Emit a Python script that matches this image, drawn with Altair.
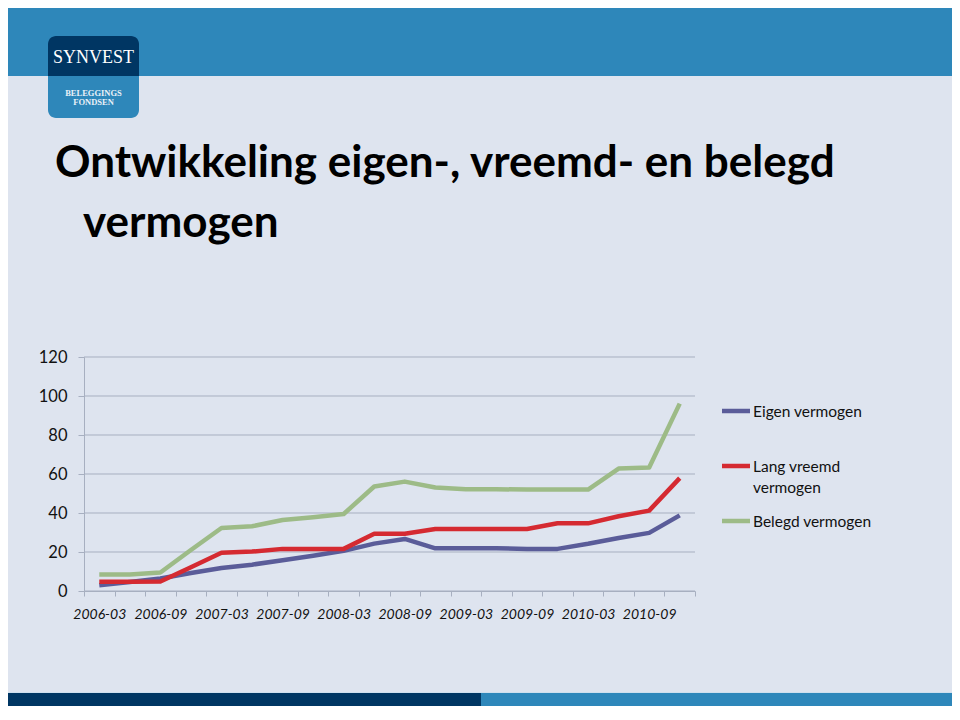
import altair as alt
import pandas as pd

# ---------------- data ----------------
quarters = [
    "2006-03", "2006-06", "2006-09", "2006-12",
    "2007-03", "2007-06", "2007-09", "2007-12",
    "2008-03", "2008-06", "2008-09", "2008-12",
    "2009-03", "2009-06", "2009-09", "2009-12",
    "2010-03", "2010-06", "2010-09", "2010-12",
]
eigen_vermogen = [2.9, 4.6, 6.4, 9.2, 11.8, 13.5, 15.8, 18.1, 20.6, 24.3,
                  26.7, 21.9, 21.9, 21.9, 21.6, 21.6, 24.2, 27.2, 29.8, 38.8]
lang_vreemd_vermogen = [4.8, 4.8, 4.9, 12.2, 19.6, 20.2, 21.6, 21.6, 21.6, 29.4,
                        29.4, 31.8, 31.8, 31.8, 31.8, 34.7, 34.7, 38.3, 41.2, 57.9]
belegd_vermogen = [8.5, 8.5, 9.5, 21.0, 32.3, 33.2, 36.4, 37.8, 39.5, 53.6,
                   56.1, 53.1, 52.2, 52.2, 52.0, 52.0, 52.0, 62.8, 63.3, 96.1]
series_names = ["Eigen vermogen", "Lang vreemd vermogen", "Belegd vermogen"]
series_values = [eigen_vermogen, lang_vreemd_vermogen, belegd_vermogen]
y_ticks = [0, 20, 40, 60, 80, 100, 120]
title_lines = ["Ontwikkeling eigen-, vreemd- en belegd", "vermogen"]
logo_lines = ["SYNVEST", "BELEGGINGS", "FONDSEN"]

# ---------------- styling ----------------
series_colors = ["#5A5C99", "#D52A31", "#9DBB87"]
BG = "#DEE4EF"
BAND = "#2E87BA"
NAVY = "#003663"
GRID = "#A7AFC0"
TEXT = "#111111"

W, H = 944, 698
X0, X1 = 76, 687
Y0, Y1 = 583, 349

rows = []
for name, vals in zip(series_names, series_values):
    for q, v in zip(quarters, vals):
        rows.append({"quarter": q, "series": name, "value": v})
df = pd.DataFrame(rows)

one = pd.DataFrame({"k": [0]})


def rect(x, x2, y, y2, color, **kw):
    return alt.Chart(one).mark_rect(color=color, **kw).encode(
        x=alt.value(x), x2=alt.value(x2), y=alt.value(y), y2=alt.value(y2)
    )


def label(text, x, y, **kw):
    return alt.Chart(pd.DataFrame({"t": [text]})).mark_text(**kw).encode(
        x=alt.value(x), y=alt.value(y), text="t:N"
    )


x_scale = alt.Scale(type="band", domain=quarters, range=[X0, X1],
                    paddingInner=0, paddingOuter=0)
y_scale = alt.Scale(domain=[0, 120], range=[Y0, Y1], nice=False, zero=True)

x_axis = alt.Axis(
    title=None, offset=-(H - Y0), tickBand="extent", grid=False,
    domainColor=GRID, tickColor=GRID, tickSize=5, labelAngle=0,
    labelFont="Lato", labelFontSize=14, labelFontStyle="italic",
    labelColor=TEXT, labelPadding=11, labelOverlap=False,
    labelExpr="(substring(datum.value, 5) == '03' || substring(datum.value, 5) == '09') ? datum.value : ''",
)
y_axis = alt.Axis(
    title=None, offset=-X0, values=y_ticks, grid=False,
    domainColor=GRID, tickColor=GRID, tickSize=6, labelOverlap=False,
    labelFont="Lato", labelFontSize=16.5, labelColor=TEXT, labelPadding=11,
)

# grid lines (same field name so the y axis is shared)
grid = alt.Chart(pd.DataFrame({"value": y_ticks})).mark_rule(
    color=GRID, strokeWidth=1
).encode(
    y=alt.Y("value:Q", scale=y_scale, axis=y_axis),
    x=alt.value(X0), x2=alt.value(X1),
)

lines = []
for i, name in enumerate(series_names):
    lines.append(
        alt.Chart(df).transform_filter(alt.datum.series == name)
        .mark_line(color=series_colors[i], strokeWidth=4.5,
                   strokeJoin="round", strokeCap="butt")
        .encode(
            x=alt.X("quarter:N", sort=quarters, scale=x_scale, axis=x_axis,
                    bandPosition=0.5),
            y=alt.Y("value:Q", scale=y_scale, axis=y_axis),
        )
    )

# legend (manual, Excel-like)
legend_y = [403, 458, 513]
legend_layers = []
for i, name in enumerate(series_names):
    legend_layers.append(
        alt.Chart(one).mark_rule(color=series_colors[i], strokeWidth=4.5).encode(
            x=alt.value(714), x2=alt.value(742),
            y=alt.value(legend_y[i]),
        )
    )
    shown = name.replace("vreemd ", "vreemd\n") if len(name) > 16 else name
    legend_layers.append(
        label(shown, 745, legend_y[i] + 5.5, align="left", baseline="alphabetic",
              font="Lato", fontSize=15.5, color=TEXT, lineBreak="\n", lineHeight=21)
    )

# slide decorations
header = rect(0, W, 0, 68, BAND)
logo_base = rect(40, 131, 28, 110, BAND, cornerRadius=8)
logo_top = rect(40, 131, 28, 68, NAVY, cornerRadiusTopLeft=8, cornerRadiusTopRight=8)
logo_t1 = label(logo_lines[0], 85.5, 49.5, align="center", baseline="middle",
                font="Liberation Serif", fontSize=18, color="white")
logo_t2 = label(logo_lines[1], 85.5, 84.5, align="center", baseline="middle",
                font="Liberation Serif", fontSize=8.5, fontWeight="bold", color="#EAF1F8")
logo_t3 = label(logo_lines[2], 85.5, 93.5, align="center", baseline="middle",
                font="Liberation Serif", fontSize=8.5, fontWeight="bold", color="#EAF1F8")
title1 = label(title_lines[0], 47, 169, align="left", baseline="alphabetic",
               font="Lato", fontSize=44, fontWeight="bold", color="black")
title2 = label(title_lines[1], 75, 229, align="left", baseline="alphabetic",
               font="Lato", fontSize=44, fontWeight="bold", color="black")
foot_line = rect(0, W, 684, 685, "#CFE0EE")
foot_left = rect(0, 473, 685, H, NAVY)
foot_right = rect(473, W, 685, H, BAND)

chart = alt.layer(
    header, logo_base, logo_top, logo_t1, logo_t2, logo_t3,
    title1, title2, grid, *lines, *legend_layers,
    foot_line, foot_left, foot_right,
).properties(
    width=W, height=H,
    autosize=alt.AutoSizeParams(type="none"),
    padding=0,
    background=BG,
).configure_view(stroke=None)

chart.save("out.html", embed_options={"renderer": "svg", "actions": False})
